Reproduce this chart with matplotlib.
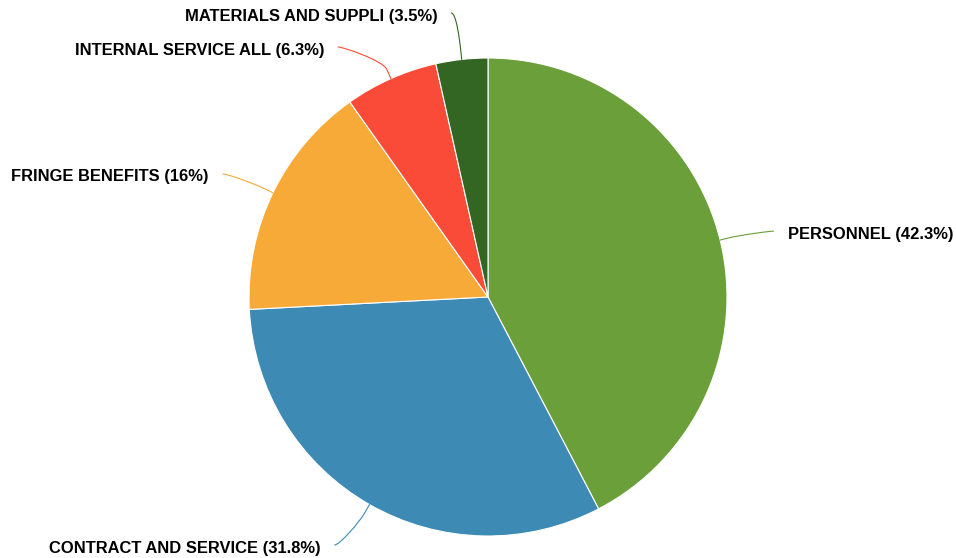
#!/usr/bin/env python3
"""Budget split pie with soft (curved) label connectors."""
import numpy as np
import matplotlib
matplotlib.use("Agg")
import matplotlib.pyplot as plt
from matplotlib.path import Path
from matplotlib.patches import PathPatch

categories = ["PERSONNEL", "CONTRACT AND SERVICE", "FRINGE BENEFITS",
              "INTERNAL SERVICE ALL", "MATERIALS AND SUPPLI"]
shares = [42.3, 31.8, 16, 6.3, 3.5]
colors = ["#6a9f3a", "#3d8ab5", "#f7aa38", "#fa4b38", "#336622"]

W, H = 956, 558
CX, CY, R = 488, H - 297, 239
DIST = 50          # label distance beyond the rim
BREAK = 10         # connector break beyond the rim
GAP = 34           # min vertical spacing between labels on one side
DROP = 3           # labels sit a little below their angle
TOP, BOT = H - 13, 13

plt.rcParams["font.family"] = ["Liberation Sans", "DejaVu Sans"]

fig = plt.figure(figsize=(W / 100, H / 100), dpi=100)
ax = fig.add_axes([0, 0, 1, 1])
wedges, _ = ax.pie(shares, colors=colors, startangle=90, counterclock=False,
                   center=(CX, CY), radius=R,
                   wedgeprops=dict(edgecolor="white", linewidth=0.8))
ax.set_xlim(0, W)
ax.set_ylim(0, H)
ax.set_aspect("equal")
ax.axis("off")

# label anchors along the mid-angle of each wedge
labels = []
for name, val, col, w in zip(categories, shares, colors, wedges):
    a = np.deg2rad((w.theta1 + w.theta2) / 2)
    ex, ey = CX + (R + DIST) * np.cos(a), CY + (R + DIST) * np.sin(a) - DROP
    labels.append(dict(name=name, val=val, col=col, a=a, x=ex, y=ey, y0=ey,
                       left=ex < CX))

# push overlapping labels apart, per side, top to bottom
for side in (True, False):
    grp = sorted([l for l in labels if l["left"] == side], key=lambda l: -l["y"])
    prev = None
    for l in grp:
        lim = TOP if prev is None else prev - GAP
        l["y"] = min(l["y"], lim)
        l["y"] = max(l["y"], BOT)
        prev = l["y"]
    for l in grp:
        if abs(l["y"] - l["y0"]) > 5:
            dy = l["y"] - CY
            dx = np.sqrt(max((R + DIST) ** 2 - dy ** 2, 0))
            l["x"] = CX - dx if side else CX + dx

for l in labels:
    a = l["a"]
    sgn = -1 if l["left"] else 1
    edge = np.array([CX + R * np.cos(a), CY + R * np.sin(a)])
    brk = np.array([CX + (R + BREAK) * np.cos(a), CY + (R + BREAK) * np.sin(a)])
    ctrl = 2 * brk - edge
    end = np.array([l["x"], l["y"]])
    start = end + np.array([5 * sgn, 0])
    verts = [start, end, ctrl, brk, edge]
    codes = [Path.MOVETO, Path.CURVE4, Path.CURVE4, Path.CURVE4, Path.LINETO]
    ax.add_patch(PathPatch(Path(verts, codes), fill=False, edgecolor=l["col"],
                           lw=0.8, capstyle="round"))
    txt = f"{l['name']} ({l['val']:g}%)"
    ax.text(l["x"] + 19 * sgn, l["y"] - 3, txt,
            ha="right" if l["left"] else "left", va="center",
            fontsize=11.9, fontweight="bold", color="#000000")

fig.savefig("out.png", dpi=100)
